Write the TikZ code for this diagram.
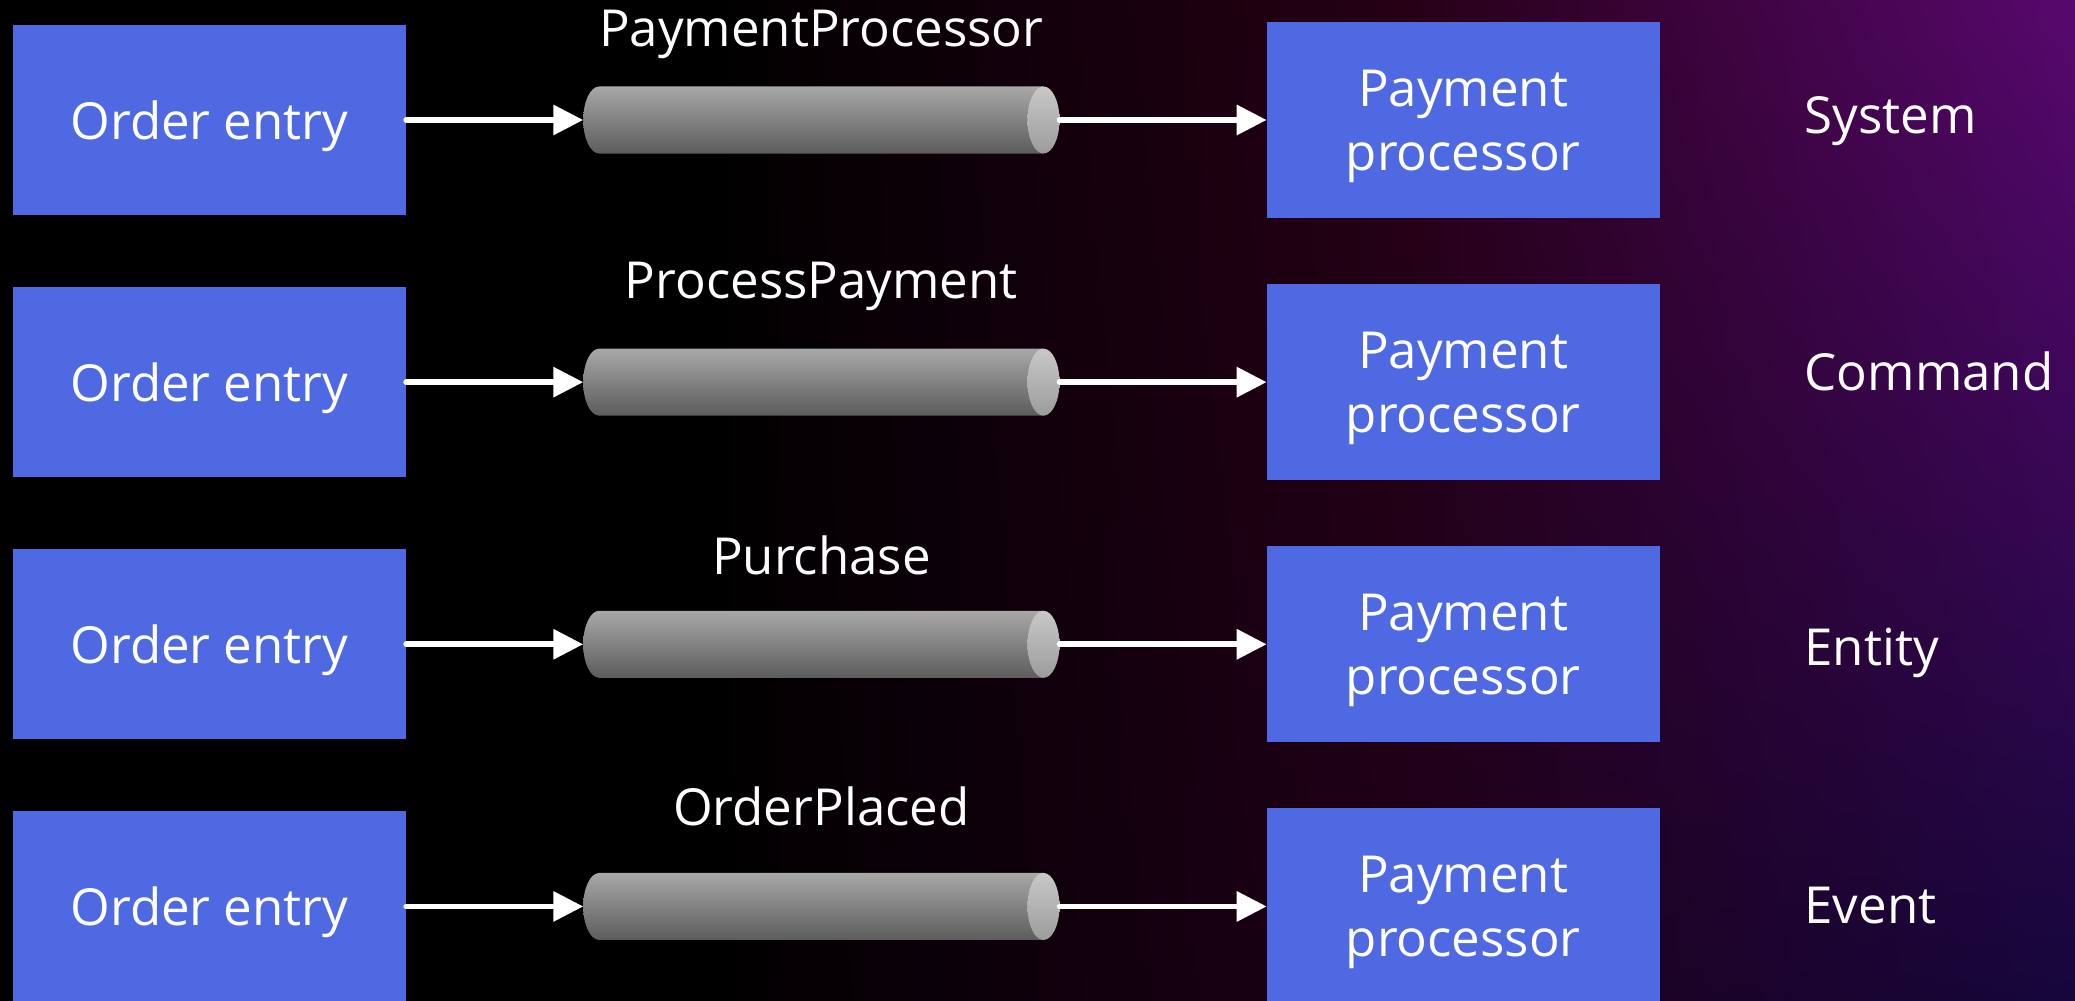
\documentclass[tikz,border=0pt]{standalone}
\usepackage{fontspec}
\setmainfont{Open Sans}
\usepackage{tikz}
\usetikzlibrary{positioning}
\usetikzlibrary{arrows.meta}
\usetikzlibrary{shadings}

\definecolor{boxblue}{HTML}{4F69E2}
\definecolor{cyltop}{HTML}{A8A8A8}
\definecolor{cylbot}{HTML}{5C5C5C}
\definecolor{captop}{HTML}{C8C8C8}
\definecolor{capbot}{HTML}{9C9C9C}
\definecolor{bgmidtop}{HTML}{260015}
\definecolor{bgmidbot}{HTML}{1E0018}
\definecolor{bgtopright}{HTML}{58086E}
\definecolor{bgbotright}{HTML}{16063C}

\begin{document}
\begin{tikzpicture}[x=0.01cm, y=-0.01cm, font=\fontsize{14.5}{18.2}\selectfont,
    src/.style = {fill=boxblue, text=white, minimum width=3.93cm, minimum height=1.9cm, inner sep=0pt, outer sep=0pt, text depth=0pt},
    dst/.style = {src, minimum height=1.96cm, align=center},
    queue/.style = {minimum width=4.76cm, minimum height=0.67cm, inner sep=0pt, outer sep=0pt,
        path picture={
            \shade[top color=cyltop, bottom color=cylbot]
                ([xshift=-0.16cm]path picture bounding box.north east) -- ([xshift=0.16cm]path picture bounding box.north west)
                arc[start angle=90, end angle=270, x radius=0.16cm, y radius=0.335cm]
                -- ([xshift=-0.16cm]path picture bounding box.south east) -- cycle;
            \shade[top color=captop, bottom color=capbot]
                ([xshift=-0.16cm]path picture bounding box.east) ellipse [x radius=0.16cm, y radius=0.335cm];
        }},
    msg/.style = {text=white, inner sep=0pt},
    kind/.style = {text=white, inner sep=0pt},
    flow/.style = {white, line width=1.6pt, line cap=round, -{Triangle[length=8.5pt, width=8.3pt]}}]
    \useasboundingbox (0,0) rectangle (2075,1001);
    % background
    \fill[black] (0,0) rectangle (2075,1001);
    \shade[upper left=black, lower left=black, upper right=bgmidtop, lower right=bgmidbot] (700,0) rectangle (1400,1001);
    \shade[upper left=bgmidtop, lower left=bgmidbot, upper right=bgtopright, lower right=bgbotright] (1400,0) rectangle (2075,1001);

    % row 1
    \node[src] (src1) at (209.5,120) {Order entry};
    \node[queue, right=1.77cm of src1] (q1) {};
    \node[dst, right=2.07cm of q1] (dst1) {Payment\\processor};
    \node[msg, above=0.43cm of q1, anchor=base, yshift=-1pt] (m1) {PaymentProcessor};
    \node[kind, right=1.44cm of dst1, anchor=mid west, yshift=-1.1pt] (k1) {System};
    \draw[flow] (src1.east) -- (q1.west);
    \draw[flow] (q1.east) -- (dst1.west);

    % row 2
    \node[src, below=0.72cm of src1] (src2) {Order entry};
    \node[queue, right=1.77cm of src2] (q2) {};
    \node[dst, right=2.07cm of q2] (dst2) {Payment\\processor};
    \node[msg, above=0.43cm of q2, anchor=base, yshift=2pt] (m2) {ProcessPayment};
    \node[kind, right=1.44cm of dst2, anchor=mid west, yshift=0.3pt] (k2) {Command};
    \draw[flow] (src2.east) -- (q2.west);
    \draw[flow] (q2.east) -- (dst2.west);

    % row 3
    \node[src, below=0.72cm of src2] (src3) {Order entry};
    \node[queue, right=1.77cm of src3] (q3) {};
    \node[dst, right=2.07cm of q3] (dst3) {Payment\\processor};
    \node[msg, above=0.43cm of q3, anchor=base, yshift=-2pt] (m3) {Purchase};
    \node[kind, right=1.44cm of dst3, anchor=mid west, yshift=-3.4pt] (k3) {Entity};
    \draw[flow] (src3.east) -- (q3.west);
    \draw[flow] (q3.east) -- (dst3.west);

    % row 4
    \node[src, below=0.72cm of src3] (src4) {Order entry};
    \node[queue, right=1.77cm of src4] (q4) {};
    \node[dst, right=2.07cm of q4] (dst4) {Payment\\processor};
    \node[msg, above=0.43cm of q4, anchor=base, yshift=1.3pt] (m4) {OrderPlaced};
    \node[kind, right=1.44cm of dst4, anchor=mid west, yshift=-2.2pt] (k4) {Event};
    \draw[flow] (src4.east) -- (q4.west);
    \draw[flow] (q4.east) -- (dst4.west);
\end{tikzpicture}
\end{document}
